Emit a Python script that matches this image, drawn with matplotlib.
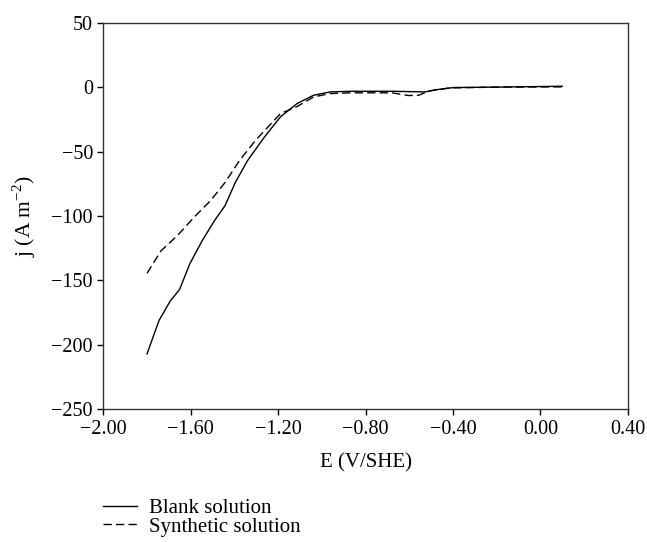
import matplotlib
matplotlib.use("Agg")
import matplotlib.pyplot as plt

plt.rcParams["font.family"] = ["Liberation Serif", "DejaVu Serif"]
plt.rcParams["mathtext.fontset"] = "custom"
plt.rcParams["mathtext.rm"] = "Liberation Serif"

# ── data ──────────────────────────────────────────
blank_E = [-1.80, -1.745, -1.694, -1.651, -1.604, -1.547, -1.491, -1.443,
           -1.396, -1.34, -1.264, -1.189, -1.113, -1.038, -0.962, -0.868,
           -0.679, -0.528, -0.472, -0.396, -0.208, 0.10]
blank_j = [-207, -181, -166, -157, -137, -119, -103.5, -92,
           -74, -57, -39, -23, -12.7, -6.3, -3.7, -3.2,
           -3.2, -3.7, -1.9, -0.3, 0.0, 0.7]

synth_E = [-1.80, -1.736, -1.66, -1.585, -1.509, -1.443, -1.377, -1.302,
           -1.189, -1.113, -1.038, -0.962, -0.868, -0.679, -0.604, -0.557,
           -0.509, -0.415, -0.208, 0.10]
synth_j = [-144.5, -127, -115, -101, -88, -74, -57, -41,
           -20.5, -15, -7.6, -5, -4.4, -4.4, -6.5, -6.3,
           -2.9, -0.6, 0.0, 0.2]

x_ticks = [-2.0, -1.6, -1.2, -0.8, -0.4, 0.0, 0.4]
x_labels = ["\u22122.00", "\u22121.60", "\u22121.20", "\u22120.80", "\u22120.40", "0.00", "0.40"]
y_ticks = [50, 0, -50, -100, -150, -200, -250]

fig = plt.figure(figsize=(6.47, 5.42), dpi=100)
ax = fig.add_axes([0.1597, 0.2448, 0.9702 - 0.1597, 0.9581 - 0.2448])

ax.plot(blank_E, blank_j, color="black", lw=1.0, label="Blank solution")
ax.plot(synth_E, synth_j, color="black", lw=1.0, ls=(0, (6, 3)),
        label="Synthetic solution")

ax.set_xlim(-2.0, 0.4)
ax.set_ylim(-250, 50)
ax.set_xticks(x_ticks)
ax.set_xticklabels(x_labels)
ax.set_yticks(y_ticks)
ax.set_yticklabels([f"{v}".replace("-", "\u2212") for v in y_ticks])
ax.tick_params(direction="out", length=4, width=1, labelsize=14.5, top=False, right=False)
ax.tick_params(axis="x", pad=4)
for s in ax.spines.values():
    s.set_linewidth(1.0)
    s.set_color("#333333")

ax.set_xlabel("E (V/SHE)", fontsize=15, labelpad=10)
ax.set_ylabel("j (A m$^{\u22122}$)", fontsize=15.5, labelpad=10)

fig.legend(loc="upper left", bbox_to_anchor=(0.159, 0.080), frameon=False,
           fontsize=15, handlelength=1.65, handletextpad=0.55, labelspacing=-0.05,
           borderaxespad=0, borderpad=0)

fig.savefig("out.png", dpi=100)
